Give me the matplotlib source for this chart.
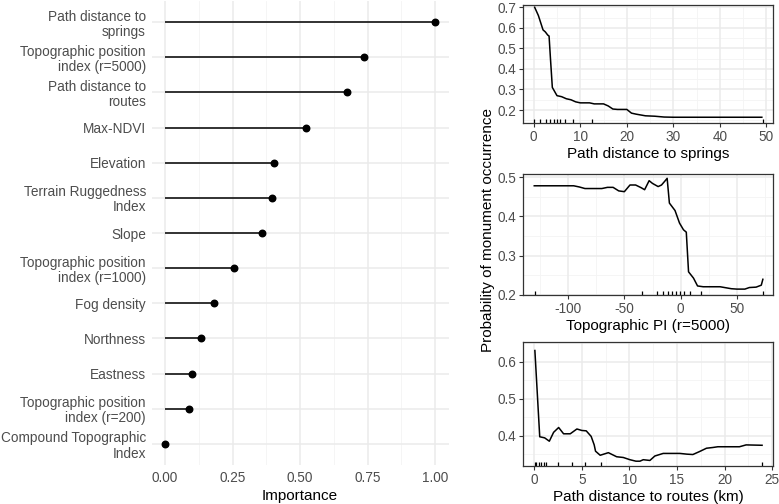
import matplotlib.pyplot as plt

plt.rcParams['font.family'] = ['Liberation Sans', 'DejaVu Sans']
plt.rcParams['axes.unicode_minus'] = False

# variable importance (top to bottom)
labels = ["Path distance to\nsprings", "Topographic position\nindex (r=5000)",
          "Path distance to\nroutes", "Max-NDVI", "Elevation",
          "Terrain Ruggedness\nIndex", "Slope", "Topographic position\nindex (r=1000)",
          "Fog density", "Northness", "Eastness",
          "Topographic position\nindex (r=200)", "Compound Topographic\nIndex"]
importance = [1.00, 0.737, 0.674, 0.522, 0.404, 0.396, 0.359, 0.256, 0.181,
              0.133, 0.10, 0.09, 0.0]

# partial dependence: path distance to springs
spr_x = [0.2, 1, 2, 2.5, 3, 3.3, 3.6, 4, 4.5, 5, 6, 7, 8, 9, 10, 12, 13, 15,
         16, 17, 18, 20, 21, 22, 24, 26, 28, 30, 49]
spr_y = [0.70, 0.66, 0.59, 0.58, 0.565, 0.56, 0.45, 0.31, 0.29, 0.27, 0.265,
         0.255, 0.25, 0.24, 0.235, 0.235, 0.23, 0.23, 0.22, 0.205, 0.203, 0.203,
         0.185, 0.18, 0.172, 0.17, 0.166, 0.165, 0.165]
spr_rug = [0, 1.3, 2.7, 3.6, 4.3, 4.9, 5.6, 6.7, 8.5, 12.6, 49.2]

# partial dependence: TPI r=5000
tpi_x = [-130, -95, -90, -85, -70, -65, -60, -55, -50, -45, -40, -35, -32, -28,
         -25, -20, -17, -14, -12, -10, -5, -1, 2.5, 5, 7, 11.4, 15, 20, 35, 45,
         50, 57, 61, 67, 71.6, 73]
tpi_y = [0.478, 0.478, 0.475, 0.471, 0.471, 0.474, 0.474, 0.465, 0.463, 0.48,
         0.48, 0.473, 0.468, 0.491, 0.484, 0.476, 0.48, 0.49, 0.497, 0.434,
         0.415, 0.383, 0.366, 0.36, 0.259, 0.243, 0.223, 0.221, 0.221, 0.216,
         0.215, 0.215, 0.219, 0.22, 0.225, 0.24]
tpi_rug = [-129.4, -34.5, -21.2, -15.9, -11.4, -7.8, -4.0, -1.0, 3.1, 7.9,
           18.2, 72.8]

# partial dependence: path distance to routes
rou_x = [0.05, 0.56, 1.08, 1.57, 2.02, 2.55, 3.07, 3.77, 4.47, 4.99, 5.45, 5.97,
         6.29, 6.43, 6.92, 7.78, 8.65, 9.35, 10.05, 10.68, 11.1, 11.45, 12.15,
         12.67, 13.55, 15.3, 16.04, 16.67, 17.37, 18.1, 18.77, 19.3, 21.57,
         22.27, 23.95]
rou_y = [0.63, 0.397, 0.394, 0.385, 0.409, 0.422, 0.405, 0.405, 0.418, 0.414,
         0.413, 0.398, 0.375, 0.358, 0.347, 0.354, 0.343, 0.341, 0.335, 0.331,
         0.331, 0.335, 0.333, 0.345, 0.352, 0.352, 0.350, 0.349, 0.357, 0.366,
         0.368, 0.370, 0.370, 0.375, 0.374]
rou_rug = [0.05, 0.2, 0.45, 0.73, 0.98, 1.2, 2.49, 3.96, 5.36, 7.03, 23.95]

W, H = 779, 504
fig = plt.figure(figsize=(W / 100, H / 100), dpi=100)
grid_major = '#EBEBEB'
grid_minor = '#F4F4F4'
tick_col = '#4D4D4D'


def add_axes(left, top, right, bottom):
    return fig.add_axes([left / W, 1 - bottom / H, (right - left) / W, (bottom - top) / H])


# ---- left: lollipop importance
ax = add_axes(151.5, 1, 448.5, 465)
n = len(labels)
ypos = list(range(n - 1, -1, -1))
ax.set_xlim(-0.05, 1.05)
ax.set_ylim(-0.6, n - 1 + 0.6)
for v in [0.125, 0.375, 0.625, 0.875]:
    ax.axvline(v, color=grid_minor, lw=0.6, zorder=0)
for v in [0, 0.25, 0.5, 0.75, 1.0]:
    ax.axvline(v, color=grid_major, lw=1.1, zorder=0)
for y in ypos:
    ax.axhline(y, color=grid_major, lw=1.1, zorder=0)
ax.hlines(ypos, 0, importance, color='black', lw=1.1, zorder=2)
ax.scatter(importance, ypos, s=22, color='black', zorder=3)
ax.set_yticks(ypos)
ax.set_yticklabels(labels, ha='right', linespacing=1.1)
ax.set_xticks([0, 0.25, 0.5, 0.75, 1.0])
ax.set_xticklabels(['0.00', '0.25', '0.50', '0.75', '1.00'])
ax.tick_params(length=0, labelsize=9.8, labelcolor=tick_col, pad=4)
for s in ax.spines.values():
    s.set_visible(False)
ax.set_xlabel('Importance', fontsize=11, labelpad=3)


def pd_panel(box, x, y, rug, xlim, ylim, xmaj, xmin, ymaj, ymin, ylabs, xlabel):
    a = add_axes(*box)
    a.set_xlim(*xlim)
    a.set_ylim(*ylim)
    for v in xmin:
        a.axvline(v, color=grid_minor, lw=0.6, zorder=0)
    for v in ymin:
        a.axhline(v, color=grid_minor, lw=0.6, zorder=0)
    for v in xmaj:
        a.axvline(v, color=grid_major, lw=1.1, zorder=0)
    for v in ymaj:
        a.axhline(v, color=grid_major, lw=1.1, zorder=0)
    a.plot(x, y, color='black', lw=1.1, zorder=3)
    a.vlines(rug, 0, 0.035, transform=a.get_xaxis_transform(), color='black', lw=0.9)
    a.set_xticks(xmaj)
    a.set_yticks(ymaj)
    a.set_yticklabels(ylabs)
    a.tick_params(length=3, width=0.8, color='#333333', labelsize=9.8,
                  labelcolor=tick_col, pad=2)
    for s in a.spines.values():
        s.set_color('#333333')
        s.set_linewidth(0.9)
    a.set_xlabel(xlabel, fontsize=11, labelpad=2)
    return a


pd_panel((523, 5, 773, 123), spr_x, spr_y, spr_rug, (-2.3, 51.4), (0.137, 0.711),
         [0, 10, 20, 30, 40, 50], [5, 15, 25, 35, 45],
         [0.2, 0.3, 0.4, 0.5, 0.6, 0.7], [0.15, 0.25, 0.35, 0.45, 0.55, 0.65],
         ['0.2', '0.3', '0.4', '0.5', '0.6', '0.7'], 'Path distance to springs')
pd_panel((523, 174, 773, 295), tpi_x, tpi_y, tpi_rug, (-140, 82), (0.2, 0.508),
         [-100, -50, 0, 50], [-125, -75, -25, 25, 75],
         [0.2, 0.3, 0.4, 0.5], [0.25, 0.35, 0.45],
         ['0.2', '0.3', '0.4', '0.5'], 'Topographic PI (r=5000)')
pd_panel((523, 342, 773, 466), rou_x, rou_y, rou_rug, (-1.2, 25.1), (0.318, 0.653),
         [0, 5, 10, 15, 20, 25], [2.5, 7.5, 12.5, 17.5, 22.5],
         [0.4, 0.5, 0.6], [0.35, 0.45, 0.55, 0.65],
         ['0.4', '0.5', '0.6'], 'Path distance to routes (km)')

fig.text(488 / W, 1 - 230 / H, 'Probability of monument occurrence', rotation=90,
         ha='center', va='center', fontsize=11)

fig.savefig('out.png', dpi=100)
